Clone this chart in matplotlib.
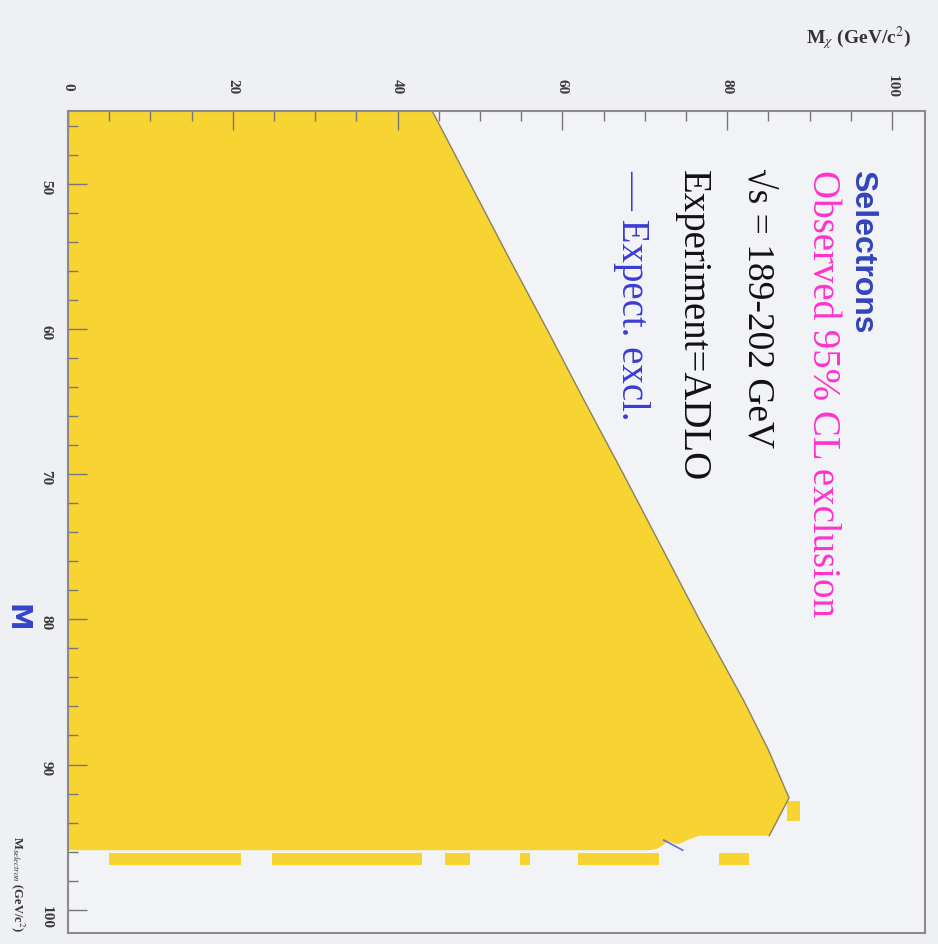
# Selectron exclusion plot (scanned page, shown rotated by 90 degrees)
import numpy as np
import matplotlib.pyplot as plt

# observed 95% CL contour, M_selectron vs M_chi (GeV/c^2)
obs_msel = [45.0, 50.0, 55.0, 60.0, 65.0, 70.0, 75.0, 80.0, 85.6, 89.0,
            92.3, 93.6, 94.9, 94.9, 95.2, 95.5, 95.3, 95.8, 95.9]
obs_mchi = [44.2, 48.8, 53.4, 58.1, 62.7, 67.4, 72.0, 76.6, 82.0, 85.0,
            87.5, 86.3, 85.1, 76.6, 75.2, 74.0, 72.8, 71.5, 70.5]

# loose excluded bins just above the main region
bin_msel = 96.5
bin_lo = [5.0, 24.8, 45.7, 54.9, 61.9, 79.0]
bin_hi = [21.0, 42.9, 48.8, 56.1, 71.7, 82.6]

# stray bin next to the tip of the contour
tip_msel = 93.2
tip_lo = [87.2]
tip_hi = [88.8]

# small piece of the expected contour that shows through
exp_msel = [95.2, 95.9]
exp_mchi = [72.3, 74.6]

chi_ticks = [0, 20, 40, 60, 80, 100]
sel_ticks = [50, 60, 70, 80, 90, 100]

W, H = 938, 945
bg = '#EEF0F4'
yellow = '#F7D432'
serif = ['Liberation Serif', 'DejaVu Serif']

fig = plt.figure(figsize=(W / 100, H / 100), dpi=100, facecolor=bg)
ax = fig.add_axes([68 / W, 1 - 934 / H, (925 - 68) / W, (934 - 112) / H])
ax.set_facecolor('#F1F3F6')

# excluded area
poly_x = [0] + obs_mchi + [0]
poly_y = [45] + obs_msel + [obs_msel[-1]]
ax.fill(poly_x, poly_y, color=yellow, lw=0, zorder=1)
ax.barh([bin_msel] * len(bin_lo), np.array(bin_hi) - np.array(bin_lo),
        left=bin_lo, height=0.8, color=yellow, lw=0, zorder=1)
ax.barh([tip_msel], np.array(tip_hi) - np.array(tip_lo),
        left=tip_lo, height=1.4, color=yellow, lw=0, zorder=1)
ax.plot(obs_mchi[:13], obs_msel[:13], color='#8C8258', lw=1.0, zorder=2)
ax.plot(exp_mchi, exp_msel, color='#6A6AE0', lw=1.2, zorder=2)

ax.set_xlim(0, 104)
ax.set_ylim(101.6, 45)

ax.xaxis.tick_top()
ax.set_xticks(chi_ticks)
ax.set_xticks(np.arange(0, 104, 5), minor=True)
ax.set_yticks(sel_ticks)
ax.set_yticks(np.arange(46, 102, 2), minor=True)
ax.tick_params(which='both', direction='in', color='#777777', width=1.0,
               right=False, bottom=False)
ax.tick_params(which='major', length=14)
ax.tick_params(which='minor', length=7)
ax.tick_params(axis='x', pad=18)
ax.tick_params(axis='y', pad=16)
for lab in ax.get_xticklabels() + ax.get_yticklabels():
    lab.set_rotation(-90)
    lab.set_family(serif)
    lab.set_fontsize(11)
    lab.set_fontweight('bold')
    lab.set_color('#3A3A3A')
for lab in ax.get_xticklabels():
    lab.set_verticalalignment('center')
for lab in ax.get_yticklabels():
    lab.set_horizontalalignment('center')
for s in ax.spines.values():
    s.set_color('#8A8A8A')
    s.set_linewidth(1.5)

# axis titles
fig.text(806 / W, 1 - 38 / H, r'M$_{\chi}$ (GeV/c$^2$)', family=serif,
         fontsize=14, fontweight='bold', color='#333333', ha='left', va='center',
         math_fontfamily='stix')
fig.text(18 / W, 1 - 836 / H, r'M$_{selectron}$ (GeV/c$^2$)', family=serif,
         fontsize=9, fontweight='bold', color='#333333', rotation=-90,
         ha='center', va='top', math_fontfamily='stix')
fig.text(2 / W, 1 - 604 / H, 'M', color='#3344CC', fontsize=20,
         fontweight='bold', rotation=-90, ha='left', va='top')

# legend texts
fig.text(862 / W, 1 - 170 / H, 'Selectrons', family=['Liberation Sans', 'DejaVu Sans'],
         fontsize=23, fontweight='bold', color='#3344BB', rotation=-90, ha='center', va='top')
fig.text(822 / W, 1 - 170 / H, 'Observed 95% CL exclusion', family=serif,
         fontsize=28, color='#FF33CC', rotation=-90, ha='center', va='top')
fig.text(757 / W, 1 - 168 / H, '\u221as = 189-202 GeV', family=serif,
         fontsize=27, color='#111111', rotation=-90, ha='center', va='top')
fig.text(692 / W, 1 - 170 / H, 'Experiment=ADLO', family=serif,
         fontsize=28, color='#111111', rotation=-90, ha='center', va='top')
fig.text(632 / W, 1 - 170 / H, '\u2014 Expect. excl.', family=serif,
         fontsize=28, color='#3B3BD6', rotation=-90, ha='center', va='top')

fig.savefig('out.png', dpi=100, facecolor=bg)
